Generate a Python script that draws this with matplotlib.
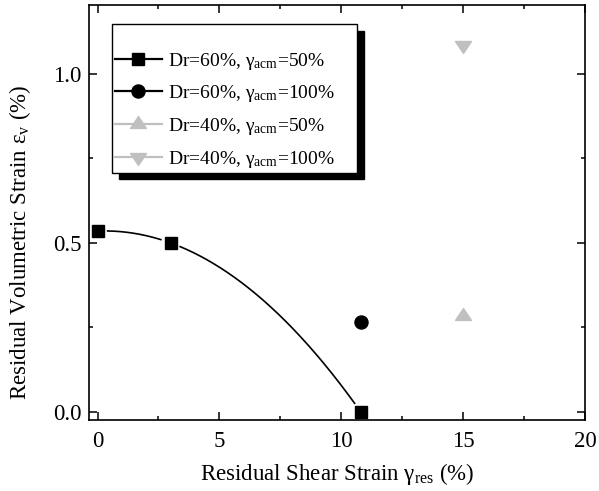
import numpy as np
import matplotlib
matplotlib.use("Agg")
import matplotlib.pyplot as plt
from matplotlib.lines import Line2D
from matplotlib.path import Path

plt.rcParams['font.family'] = ['Liberation Serif', 'DejaVu Serif']
plt.rcParams['mathtext.fontset'] = 'custom'
plt.rcParams['mathtext.rm'] = 'Liberation Serif'
plt.rcParams['mathtext.it'] = 'Liberation Serif:italic'

# Residual shear strain (%) vs residual volumetric strain (%)
dr60_50_x = [0.0, 3.0, 10.8]
dr60_50_y = [0.535, 0.50, 0.0]
dr60_100_x = [10.8]
dr60_100_y = [0.265]
dr40_50_x = [15.0]
dr40_50_y = [0.285]
dr40_100_x = [15.0]
dr40_100_y = [1.085]

labels = [
    r'Dr=60%, $\mathrm{\gamma}_{\mathrm{acm}}$=50%',
    r'Dr=60%, $\mathrm{\gamma}_{\mathrm{acm}}$=100%',
    r'Dr=40%, $\mathrm{\gamma}_{\mathrm{acm}}$=50%',
    r'Dr=40%, $\mathrm{\gamma}_{\mathrm{acm}}$=100%',
]

gray = '#c0c0c0'
up_tri = Path([(-1, -0.5), (1, -0.5), (0, 1.0), (-1, -0.5)],
              [Path.MOVETO, Path.LINETO, Path.LINETO, Path.CLOSEPOLY])
down_tri = Path([(-1, 0.5), (1, 0.5), (0, -1.0), (-1, 0.5)],
                [Path.MOVETO, Path.LINETO, Path.LINETO, Path.CLOSEPOLY])

fig = plt.figure(figsize=(5.99, 4.91), dpi=100)
ax = fig.add_axes([0.1494, 0.1446, 0.9766 - 0.1494, 0.9898 - 0.1446])
ax.set_xlim(-0.33, 20)
ax.set_ylim(-0.024, 1.204)

# smooth curve through the Dr=60% / 50% points, with gaps around the symbols
coef = np.polyfit(dr60_50_x, dr60_50_y, 2)
xs = np.linspace(min(dr60_50_x), max(dr60_50_x), 600)
ys = np.polyval(coef, xs)
fig.canvas.draw()
pts = ax.transData.transform(np.column_stack([xs, ys]))
mk = ax.transData.transform(np.column_stack([dr60_50_x, dr60_50_y]))
mask = np.ones(len(xs), bool)
for m in mk:
    mask &= np.hypot(pts[:, 0] - m[0], pts[:, 1] - m[1]) > 10
ys_gap = np.where(mask, ys, np.nan)
ax.plot(xs, ys_gap, color='black', lw=1.2, zorder=2)

ax.plot(dr60_50_x, dr60_50_y, ls='none', marker='s', ms=8.6, color='black', zorder=3)
ax.plot(dr60_100_x, dr60_100_y, ls='none', marker='o', ms=9.4, color='black', zorder=3)
ax.plot(dr40_50_x, dr40_50_y, ls='none', marker=up_tri, ms=11.5, color=gray, zorder=3)
ax.plot(dr40_100_x, dr40_100_y, ls='none', marker=down_tri, ms=11.5, color=gray, zorder=3)

ax.set_xticks([0, 5, 10, 15, 20])
ax.set_xticks([2.5, 7.5, 12.5, 17.5], minor=True)
ax.set_yticks([0.0, 0.5, 1.0])
ax.set_yticklabels(['0.0', '0.5', '1.0'])
ax.set_yticks([0.25, 0.75], minor=True)
ax.tick_params(which='both', direction='in', top=True, right=True, labelsize=16.5, width=1.1)
ax.tick_params(which='major', length=5.5)
ax.tick_params(which='minor', length=3)
ax.tick_params(axis='x', pad=8)
ax.tick_params(axis='y', pad=6)
for s in ax.spines.values():
    s.set_linewidth(1.2)

ax.set_xlabel(r'Residual Shear Strain $\mathrm{\gamma}_{\mathrm{res}}$ (%)', fontsize=16.5)
ax.set_ylabel(r'Residual Volumetric Strain $\mathrm{\varepsilon}_{\mathrm{v}}$ (%)', fontsize=16.5)
ax.xaxis.set_label_coords(0.5, -0.098)
ax.yaxis.set_label_coords(-0.114, 0.427)

handles = [
    Line2D([], [], color='black', lw=1.6, marker='s', ms=8.6),
    Line2D([], [], color='black', lw=1.6, marker='o', ms=9.4),
    Line2D([], [], color=gray, lw=1.6, marker=up_tri, ms=11.5),
    Line2D([], [], color=gray, lw=1.6, marker=down_tri, ms=11.5),
]
leg = fig.legend(handles, labels, loc='upper left',
                 bbox_to_anchor=(112 / 599, 1 - 24 / 491, (357 - 112) / 599, 0.0),
                 mode='expand', bbox_transform=fig.transFigure, borderaxespad=0, fontsize=14,
                 title=' ', title_fontsize=9, handlelength=2.4, handletextpad=0.35,
                 labelspacing=0.6, borderpad=0.15, fancybox=False, framealpha=1,
                 edgecolor='black', shadow={'ox': 5, 'oy': -5, 'color': 'black', 'alpha': 1})
leg.get_frame().set_linewidth(1.0)

fig.savefig('out.png', dpi=100)
